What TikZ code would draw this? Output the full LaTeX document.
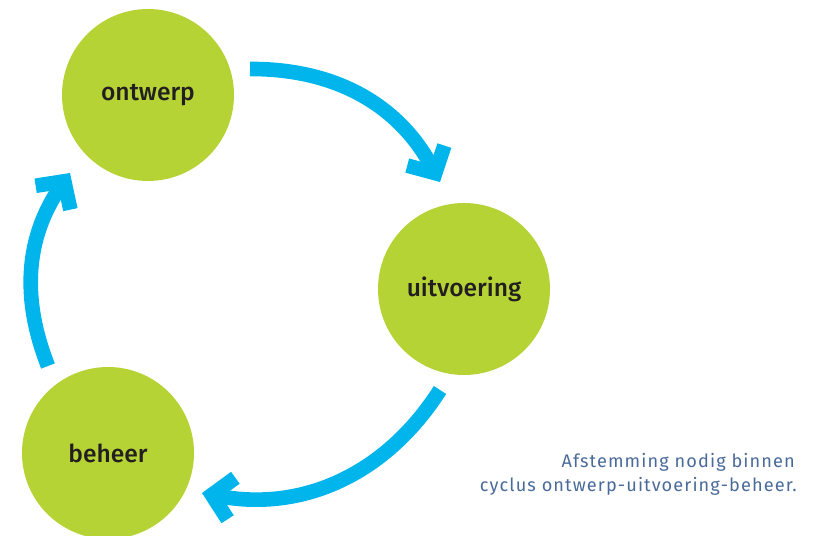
\documentclass[tikz,border=0pt]{standalone}
\usepackage{fontspec}
\setmainfont{Fira Sans}
\newfontfamily\labelfont{Fira Sans}[UprightFont=* Medium]
\newfontfamily\capfont{Fira Sans}[LetterSpace=6]
\usetikzlibrary{arrows.meta}
\definecolor{lime}{HTML}{B5D334}
\definecolor{sky}{HTML}{00B5EC}
\definecolor{capblue}{HTML}{4A6B9A}
\definecolor{ink}{HTML}{231F20}

\begin{document}
\begin{tikzpicture}[x=0.03cm,y=0.03cm,
	phase/.style={circle,fill=lime,inner sep=0pt,minimum size=5.16cm,text=ink,font=\labelfont\fontsize{21}{25}\selectfont},
	cyc/.style={draw=sky,line width=12.5pt,-{Straight Barb[length=17pt,width=36pt,line join=miter]}}]
	\clip (0,0) rectangle (817,536);

	\node[phase] at (148,441) (o) {ontwerp};
	\node[phase] at (464,247) (u) {uitvoering};
	\node[phase] at (108,83)  (b) {beheer};

	\coordinate (a1s) at (250,467);
	\coordinate (a1e) at (440,354);
	\coordinate (a2s) at (440,146);
	\coordinate (a2e) at (202,43);
	\coordinate (a3s) at (48,170);
	\coordinate (a3e) at (70,363);

	\draw[cyc] (a1s) to[bend left=31] (a1e);
	\draw[cyc] (a2s) to[bend left=34] (a2e);
	\draw[cyc] (a3s) to[bend left=28] (a3e);

	\node[anchor=base east,text=capblue,font=\capfont\fontsize{15.5}{18}\selectfont,inner sep=0pt] at (795,68) (c1) {Afstemming nodig binnen};
	\node[anchor=base east,text=capblue,font=\capfont\fontsize{15.5}{18}\selectfont,inner sep=0pt] at (797,44) (c2) {cyclus ontwerp-uitvoering-beheer.};
\end{tikzpicture}
\end{document}
